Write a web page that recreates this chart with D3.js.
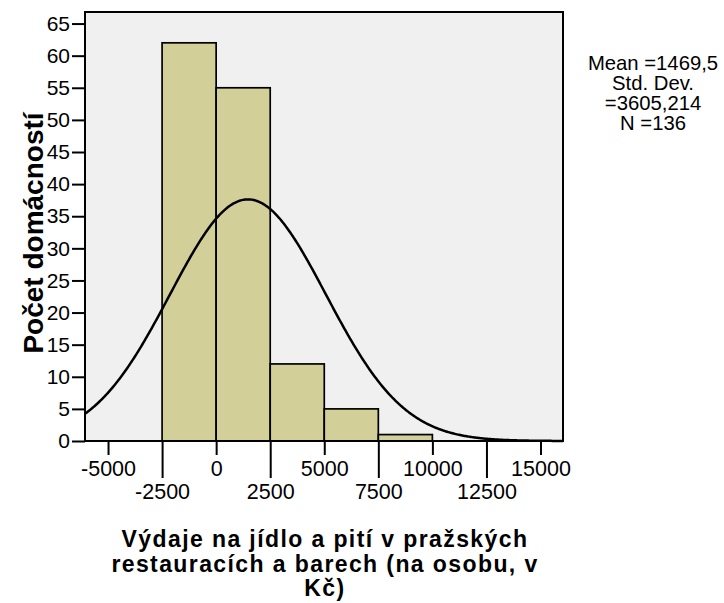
<!DOCTYPE html>
<html>
<head>
<meta charset="utf-8">
<script src="https://cdn.jsdelivr.net/npm/d3@7"></script>
<style>
  body { margin: 0; background: #fff; }
  text { font-family: "Liberation Sans", Arial, sans-serif; fill: #000; }
</style>
</head>
<body>
<div id="chart"></div>
<script>
// histogram bins (lower edge, upper edge, count)
const binStarts = [-2500, 0, 2500, 5000, 7500];
const binEnds = [0, 2500, 5000, 7500, 10000];
const counts = [62, 55, 12, 5, 1];

const xTicksTop = [-5000, 0, 5000, 10000, 15000];
const xTicksBottom = [-2500, 2500, 7500, 12500];
const yTicks = [0, 5, 10, 15, 20, 25, 30, 35, 40, 45, 50, 55, 60, 65];

// summary stats shown in the legend (used for the normal curve)
const statMean = 1469.5;
const statSd = 3605.214;
const statN = 136;
const binWidth = 2500;
const legendLines = ["Mean =1469,5", "Std. Dev.", "=3605,214", "N =136"];

const yLabel = "Počet domácností";
const xLabelLines = ["Výdaje na jídlo a pití v pražských", "restauracích a barech (na osobu, v", "Kč)"];

const W = 724, H = 603;
const plot = { left: 85, right: 563, top: 12, bottom: 441 };

const svg = d3.select("#chart").append("svg")
    .attr("width", W)
    .attr("height", H);

const xScale = d3.scaleLinear().domain([-6065, 16040]).range([plot.left, plot.right]);
const yScale = d3.scaleLinear().domain([0, 66.8]).range([plot.bottom, plot.top]);

// plot background
svg.append("rect")
    .attr("x", plot.left)
    .attr("y", plot.top)
    .attr("width", plot.right - plot.left)
    .attr("height", plot.bottom - plot.top)
    .attr("fill", "#f0f0f0");

// bars
svg.selectAll(".bar")
    .data(counts)
    .enter()
    .append("rect")
    .attr("class", "bar")
    .attr("x", (d, i) => xScale(binStarts[i]))
    .attr("y", d => yScale(d))
    .attr("width", (d, i) => xScale(binEnds[i]) - xScale(binStarts[i]))
    .attr("height", d => yScale(0) - yScale(d))
    .attr("fill", "#d3cf98")
    .attr("stroke", "#000")
    .attr("stroke-width", 1.7);

// normal curve
const xs = d3.range(xScale.domain()[0], xScale.domain()[1], 50).concat([xScale.domain()[1]]);
const dens = x => statN * binWidth / (statSd * Math.sqrt(2 * Math.PI)) * Math.exp(-0.5 * Math.pow((x - statMean) / statSd, 2));
svg.append("path")
    .datum(xs)
    .attr("fill", "none")
    .attr("stroke", "#000")
    .attr("stroke-width", 2.5)
    .attr("d", d3.line().x(d => xScale(d)).y(d => yScale(dens(d))));

// frame
svg.append("rect")
    .attr("x", plot.left)
    .attr("y", plot.top)
    .attr("width", plot.right - plot.left)
    .attr("height", plot.bottom - plot.top)
    .attr("fill", "none")
    .attr("stroke", "#000")
    .attr("stroke-width", 2);

// y axis
const yAxis = svg.append("g")
    .attr("transform", `translate(${plot.left},0)`)
    .call(d3.axisLeft(yScale).tickValues(yTicks).tickSize(13).tickPadding(2));
yAxis.select(".domain").remove();
yAxis.selectAll(".tick line").attr("stroke", "#000").attr("stroke-width", 2);
yAxis.selectAll(".tick text")
    .style("font-size", "21px")
    .style("font-family", "Liberation Sans, Arial, sans-serif");

// x axis, two staggered rows
const xAxisTop = svg.append("g")
    .attr("transform", `translate(0,${plot.bottom})`)
    .call(d3.axisBottom(xScale).tickValues(xTicksTop).tickSize(14).tickPadding(6));
const xAxisBottom = svg.append("g")
    .attr("transform", `translate(0,${plot.bottom})`)
    .call(d3.axisBottom(xScale).tickValues(xTicksBottom).tickSize(37).tickPadding(6));
[xAxisTop, xAxisBottom].forEach(g => {
    g.select(".domain").remove();
    g.selectAll(".tick line").attr("stroke", "#000").attr("stroke-width", 2);
    g.selectAll(".tick text")
        .style("font-size", "21.5px")
        .style("font-family", "Liberation Sans, Arial, sans-serif")
        .text(d => d3.format("d")(d).replace("−", "-"));
});

// y label
svg.append("text")
    .attr("transform", `translate(43,233) rotate(-90)`)
    .attr("text-anchor", "middle")
    .style("font-size", "28px")
    .style("font-weight", "bold")
    .text(yLabel);

// x label
svg.selectAll(".xlab")
    .data(xLabelLines)
    .enter()
    .append("text")
    .attr("class", "xlab")
    .attr("x", 325)
    .attr("y", (d, i) => 547 + i * 24.5)
    .attr("text-anchor", "middle")
    .style("font-size", "23px")
    .style("font-weight", "bold")
    .style("letter-spacing", "1.4px")
    .text(d => d);

// legend
svg.selectAll(".leg")
    .data(legendLines)
    .enter()
    .append("text")
    .attr("class", "leg")
    .attr("x", 653)
    .attr("y", (d, i) => 70 + i * 20)
    .attr("text-anchor", "middle")
    .style("font-size", "20.3px")
    .text(d => d);
</script>
</body>
</html>
